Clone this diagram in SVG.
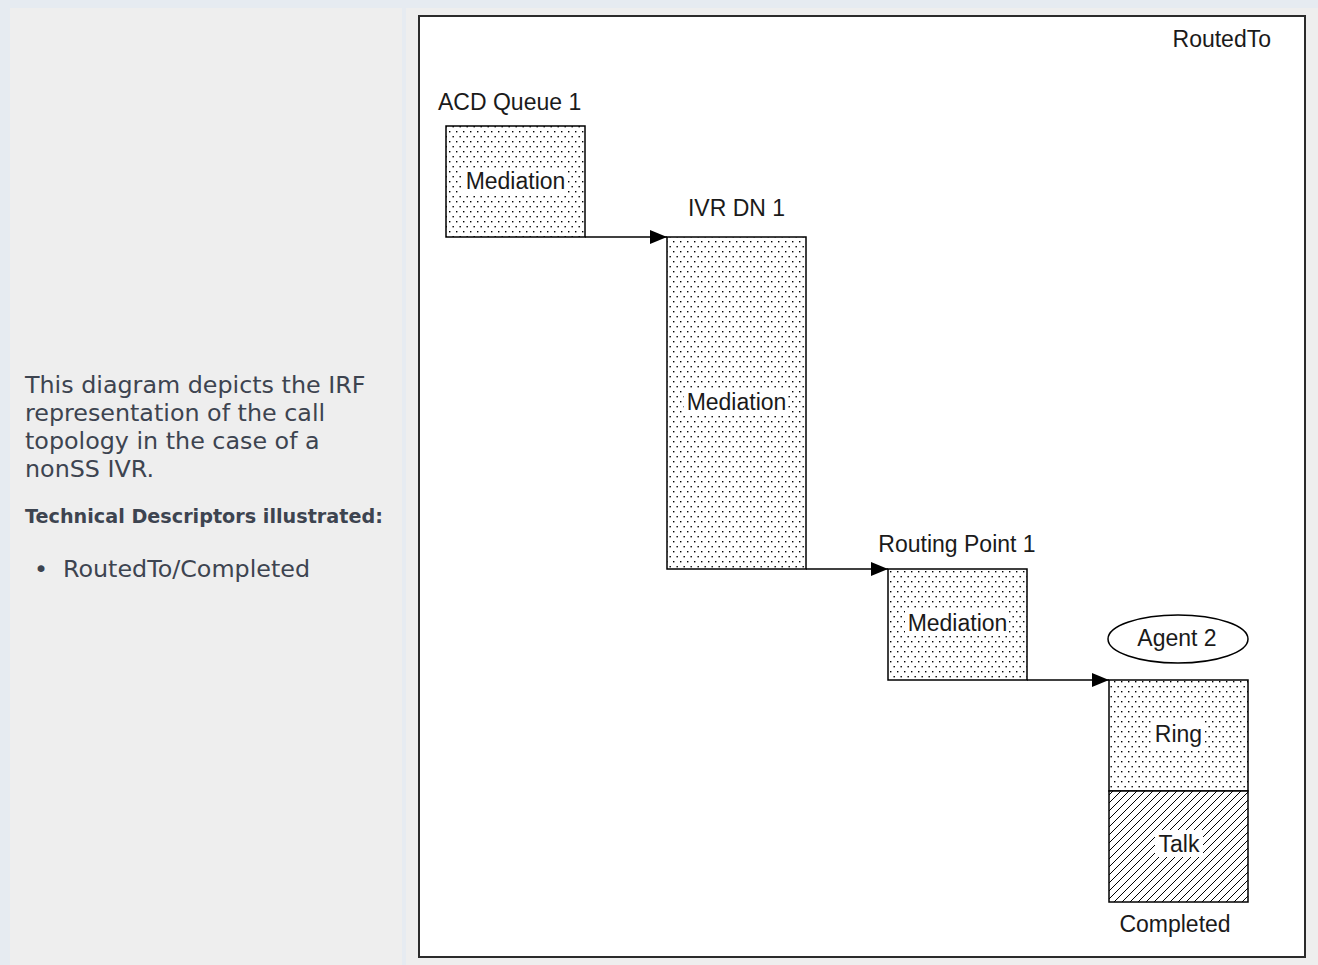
<svg xmlns="http://www.w3.org/2000/svg" width="1318" height="965" viewBox="0 0 1318 965">
  <style>
    .side { font-family: "DejaVu Sans", sans-serif; fill: #3d4450; }
    .lbl { font-family: "Liberation Sans", Arial, sans-serif; font-size: 23px; fill: #1a1a1a; }
    .box { stroke: #000; stroke-width: 1.5; }
    .conn { stroke: #000; stroke-width: 1.5; fill: none; }
  </style>
  <defs>
    <pattern id="dots" width="7" height="10" patternUnits="userSpaceOnUse">
      <rect width="7" height="10" fill="#fff"/>
      <rect x="1" y="1" width="1.4" height="1.4" fill="#000"/>
      <rect x="4.5" y="6" width="1.4" height="1.4" fill="#000"/>
    </pattern>
    <pattern id="hatch" width="8" height="8" patternUnits="userSpaceOnUse">
      <rect width="8" height="8" fill="#fff"/>
      <path d="M0,8 L8,0 M-2,2 L2,-2 M6,10 L10,6" stroke="#000" stroke-width="1"/>
    </pattern>
    <marker id="arr" markerWidth="17" markerHeight="14" refX="17" refY="7" orient="auto" markerUnits="userSpaceOnUse">
      <path d="M0,0 L17,7 L0,14 Z" fill="#000"/>
    </marker>
  </defs>

  <!-- page background -->
  <rect x="0" y="0" width="1318" height="965" fill="#e6ebf1"/>
  <rect x="10" y="8" width="392" height="957" fill="#eeeeee"/>
  <rect x="406" y="8" width="912" height="957" fill="#eeeeee"/>

  <!-- side text -->
  <g id="description">
    <text class="side" font-size="23.8" x="25" y="393">This diagram depicts the IRF</text>
    <text class="side" font-size="23.8" x="25" y="421">representation of the call</text>
    <text class="side" font-size="23.8" x="25" y="449">topology in the case of a</text>
    <text class="side" font-size="23.8" x="25" y="477">nonSS IVR.</text>
    <text class="side" font-size="19.2" font-weight="bold" x="25" y="523">Technical Descriptors illustrated:</text>
    <text class="side" font-size="23.8" x="34" y="577">•</text>
    <text class="side" font-size="23.8" x="63" y="577">RoutedTo/Completed</text>
  </g>

  <!-- picture frame -->
  <rect x="419" y="16" width="886" height="941" fill="#fff" stroke="#2b2b2b" stroke-width="2"/>

  <text class="lbl" x="1271" y="47" text-anchor="end" id="routedto">RoutedTo</text>

  <g id="connectors">
    <line class="conn" x1="585" y1="237" x2="667" y2="237" marker-end="url(#arr)"/>
    <line class="conn" x1="806" y1="569" x2="888" y2="569" marker-end="url(#arr)"/>
    <line class="conn" x1="1027" y1="680" x2="1109" y2="680" marker-end="url(#arr)"/>
  </g>

  <g id="acd-queue-1">
    <text class="lbl" x="438" y="110">ACD Queue 1</text>
    <rect class="box" x="446" y="126" width="139" height="111" fill="url(#dots)"/>
    <rect x="463" y="168" width="104" height="26" fill="#fff"/>
    <text class="lbl" x="515.5" y="189" text-anchor="middle">Mediation</text>
  </g>

  <g id="ivr-dn-1">
    <text class="lbl" x="736.5" y="216" text-anchor="middle">IVR DN 1</text>
    <rect class="box" x="667" y="237" width="139" height="332" fill="url(#dots)"/>
    <rect x="684" y="389" width="104" height="26" fill="#fff"/>
    <text class="lbl" x="736.5" y="410" text-anchor="middle">Mediation</text>
  </g>

  <g id="routing-point-1">
    <text class="lbl" x="957" y="552" text-anchor="middle">Routing Point 1</text>
    <rect class="box" x="888" y="569" width="139" height="111" fill="url(#dots)"/>
    <rect x="905" y="610" width="104" height="26" fill="#fff"/>
    <text class="lbl" x="957.5" y="631" text-anchor="middle">Mediation</text>
  </g>

  <g id="agent-2">
    <ellipse cx="1178" cy="639" rx="70" ry="24" fill="#fff" stroke="#000" stroke-width="1.5"/>
    <text class="lbl" x="1177" y="646" text-anchor="middle">Agent 2</text>
    <rect class="box" x="1109" y="680" width="139" height="111" fill="url(#dots)"/>
    <rect x="1152" y="721" width="52" height="29" fill="#fff"/>
    <text class="lbl" x="1178.5" y="742" text-anchor="middle">Ring</text>
    <rect class="box" x="1109" y="791" width="139" height="111" fill="url(#hatch)"/>
    <rect x="1155" y="830" width="48" height="27" fill="#fff"/>
    <text class="lbl" x="1179" y="852" text-anchor="middle">Talk</text>
    <text class="lbl" x="1175" y="932" text-anchor="middle">Completed</text>
  </g>
</svg>
